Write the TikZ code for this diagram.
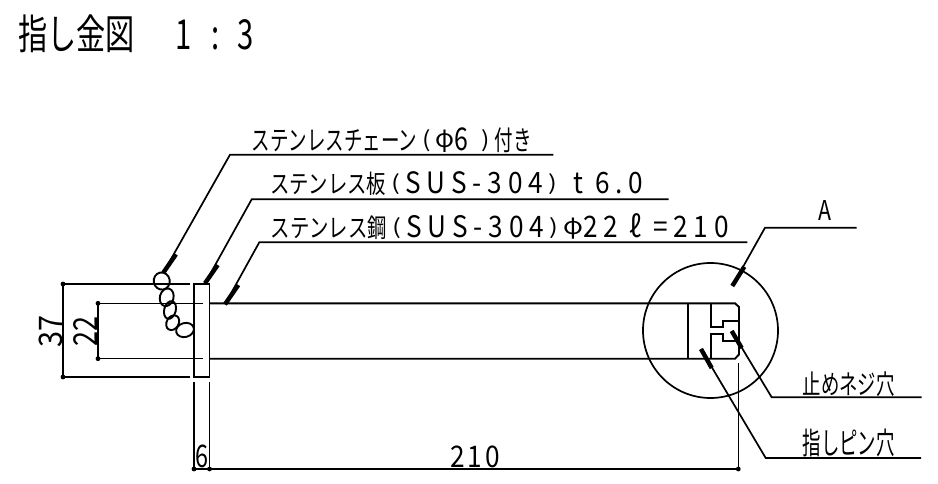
\documentclass[tikz,border=0pt]{standalone}
\usepackage{fontspec}
\usepackage{graphicx}
\usetikzlibrary{positioning}
\newfontfamily\jpfont{Noto Sans CJK JP}
\newcommand{\Fit}[3]{\resizebox*{#1pt}{#2pt}{\jpfont #3}}
\newcommand{\Sp}[2]{\scalebox{1.35}[1.15]{\addfontfeature{LetterSpace=#1}#2}}
\newcommand{\Lp}{\hspace{0.2em}\raisebox{0.1em}{\scalebox{1}[0.7]{(}}\hspace{0.2em}}
\newcommand{\Rp}{\hspace{0.2em}\raisebox{0.1em}{\scalebox{1}[0.7]{)}}\hspace{0.2em}}
\newcommand{\Ph}{\raisebox{0.1em}{\scalebox{1}[0.8]{φ}}}
\tikzset{
    outline/.style={line width=1.9pt},
    dimline/.style={line width=1.1pt},
    leader/.style={line width=1.7pt},
    tipbar/.style={line width=4.4pt},
    link/.style={line width=1.9pt},
    txt/.style={inner sep=0pt, outer sep=0pt},
}

\begin{document}
\begin{tikzpicture}[x=1pt, y=-1pt, line join=miter]
    \useasboundingbox (0,0) rectangle (938,484);

    \node[txt, anchor=north west] (title) at (18,15) {\Fit{236}{38}{指し金図\hspace{1.4em}1\hspace{0.665em}:\hspace{0.635em}3}};

    % flange and bar
    \coordinate (fTL) at (194,284);
    \coordinate (fBR) at (209.5,377);
    \draw[outline] (fTL) rectangle (fBR);
    \coordinate (barTL) at (209.5,303.3);
    \coordinate (barBL) at (209.5,358.7);
    \coordinate (barT1) at (735,303.3);
    \coordinate (barT2) at (739,307);
    \coordinate (barB2) at (739,354.5);
    \coordinate (barB1) at (735,358.7);
    \draw[outline] (barTL) -- (barT1) -- (barT2) -- (barB2) -- (barB1) -- (barBL);
    \coordinate (cutT) at (687.7,303.3);
    \coordinate (cutB) at (687.7,358.7);
    \draw[outline] (cutT) -- (cutB);

    % slot at the bar end
    \coordinate (s1) at (710.7,303.3);
    \coordinate (s2) at (710.7,327);
    \coordinate (s3) at (722.7,327);
    \coordinate (s4) at (722.7,321);
    \coordinate (s5) at (739,321);
    \draw[outline] (s1) -- (s2) -- (s3) -- (s4) -- (s5);
    \coordinate (s6) at (710.7,358.7);
    \coordinate (s7) at (710.7,334);
    \coordinate (s8) at (722.7,334);
    \coordinate (s9) at (722.7,341);
    \coordinate (s10) at (739,341);
    \draw[outline] (s6) -- (s7) -- (s8) -- (s9) -- (s10);

    \coordinate (detail) at (710.5,330.5);
    \draw[leader] (detail) circle (67.5);

    % chain
    \coordinate (c1) at (161.7,281);
    \coordinate (c2) at (166.7,297.3);
    \coordinate (c3) at (170,310);
    \coordinate (c4) at (172.7,322.7);
    \coordinate (c5) at (185,330);
    \draw[link, rotate around={10:(c1)}] (c1) ellipse (8 and 8.6);
    \draw[link, rotate around={-15:(c2)}] (c2) ellipse (6.8 and 9);
    \draw[link, rotate around={-15:(c3)}] (c3) ellipse (5.8 and 9);
    \draw[link, rotate around={-30:(c4)}] (c4) ellipse (6 and 7.8);
    \draw[link, rotate around={15:(c5)}] (c5) ellipse (9 and 7);

    % dimensions
    \coordinate (d37a) at (63,284);
    \coordinate (d37b) at (63,377);
    \coordinate (d37c) at (190,284);
    \coordinate (d37d) at (190,377);
    \draw[dimline] (d37c) -- (d37a) -- (d37b) -- (d37d);
    \coordinate (d22a) at (98,303.3);
    \coordinate (d22b) at (98,358.7);
    \coordinate (d22c) at (202.7,303.3);
    \coordinate (d22d) at (202.7,358.7);
    \draw[dimline] (d22c) -- (d22a) -- (d22b) -- (d22d);
    \coordinate (d6a) at (194,469);
    \coordinate (d6b) at (209.5,469);
    \coordinate (d6c) at (194,382);
    \coordinate (d6d) at (209.5,382);
    \coordinate (d210) at (738.3,469);
    \coordinate (d210c) at (738.3,363);
    \draw[dimline] (d6c) -- (d6a) -- (d210) -- (d210c);
    \draw[dimline] (d6d) -- (d6b);
    \foreach \p in {d37a, d37b, d22a, d22b, d6a, d6b, d210}
        \fill (\p) circle (2.4);

    \node[txt, rotate=90] (t37) at (51,331) {\Fit{32}{24}{37}};
    \node[txt, rotate=90] (t22) at (85,331) {\Fit{30}{24}{22}};
    \node[txt, anchor=south] (t6) at (201.7,468) {\Fit{13}{23}{6}};
    \node[txt, anchor=south] (t210) at (475,468) {\Fit{50}{22}{\Sp{12}{210}}};

    % leaders
    \coordinate (chainTip) at (163.3,272.7);
    \coordinate (chainBar) at (176,254.3);
    \coordinate (chainKnee) at (230,154.7);
    \coordinate (chainEnd) at (553.3,154.7);
    \draw[leader] (chainTip) -- (chainKnee) -- (chainEnd);
    \draw[tipbar] (chainTip) -- (chainBar);
    \node[txt, above right=1.7pt and 21.7pt of chainKnee] (chainLabel) {\Fit{280}{25}{ステンレスチェーン\Sp{10}{\Lp\Ph 6 \Rp}付き}};

    \coordinate (plateTip) at (205,283.3);
    \coordinate (plateBar) at (217.7,265);
    \coordinate (plateKnee) at (251.7,199.3);
    \coordinate (plateEnd) at (668.7,199.3);
    \draw[leader] (plateTip) -- (plateKnee) -- (plateEnd);
    \draw[tipbar] (plateTip) -- (plateBar);
    \node[txt, above right=3.3pt and 18.3pt of plateKnee] (plateLabel) {\Fit{373}{24}{ステンレス板\Sp{22}{ \Lp SUS-304\Rp\ t 6.0}}};

    \coordinate (rodTip) at (225,304.3);
    \coordinate (rodBar) at (238.3,285);
    \coordinate (rodKnee) at (259.3,242.3);
    \coordinate (rodEnd) at (747.3,242.3);
    \draw[leader] (rodTip) -- (rodKnee) -- (rodEnd);
    \draw[tipbar] (rodTip) -- (rodBar);
    \node[txt, above right=2.3pt and 11.4pt of rodKnee] (rodLabel) {\Fit{458}{26}{ステンレス鋼\Sp{22}{ \Lp SUS-304\Rp\Ph 22 ℓ =210}}};

    \coordinate (aTip) at (732.3,286);
    \coordinate (aBar) at (744.3,266.7);
    \coordinate (aKnee) at (765,227.7);
    \coordinate (aEnd) at (856.7,227.7);
    \draw[leader] (aTip) -- (aKnee) -- (aEnd);
    \draw[tipbar] (aTip) -- (aBar);
    \node[txt, anchor=south] (aLabel) at (825,220.5) {\Fit{13}{20}{A}};

    \coordinate (screwTip) at (731.7,331);
    \coordinate (screwBar) at (741.7,348);
    \coordinate (screwKnee) at (771.7,397.3);
    \coordinate (screwEnd) at (921.7,397.3);
    \draw[leader] (screwTip) -- (screwKnee) -- (screwEnd);
    \draw[tipbar] (screwTip) -- (screwBar);
    \node[txt, above right=0.6pt and 31pt of screwKnee] (screwLabel) {\Fit{92}{25}{止めネジ穴}};

    \coordinate (pinTip) at (701,349);
    \coordinate (pinBar) at (711.7,368);
    \coordinate (pinKnee) at (765.7,458);
    \coordinate (pinEnd) at (921,458);
    \draw[leader] (pinTip) -- (pinKnee) -- (pinEnd);
    \draw[tipbar] (pinTip) -- (pinBar);
    \node[txt, above right=1.3pt and 37pt of pinKnee] (pinLabel) {\Fit{92}{28}{指しピン穴}};
\end{tikzpicture}
\end{document}
